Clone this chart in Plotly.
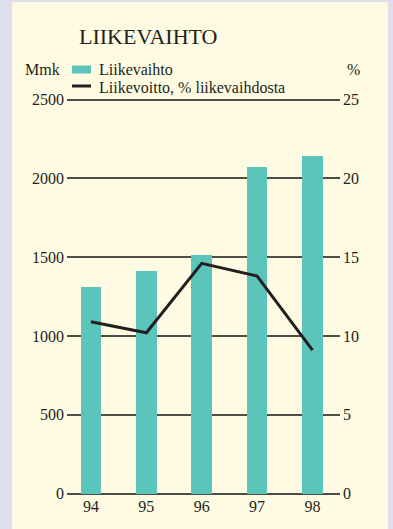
import plotly.graph_objects as go

# Data
years = ["94", "95", "96", "97", "98"]
liikevaihto = [1310, 1410, 1515, 2070, 2140]          # Mmk
liikevoitto_pct = [10.9, 10.2, 14.6, 13.8, 9.1]        # % liikevaihdosta
left_ticks = [0, 500, 1000, 1500, 2000, 2500]
right_ticks = [0, 5, 10, 15, 20, 25]

W, H = 393, 529
L, R, T, B = 67, 340, 98, 495   # plot area in pixels
PAD = 9.5                       # small headroom so the 0 and 2500 gridlines are drawn

def px(x):
    return (x - L) / (R - L)

def py(y):
    return (B - y) / (B - T)

FONT = "Liberation Serif, Times New Roman, serif"
INK = "#231f20"
TEAL = "#5bc4bb"
CREAM = "#fffbe2"
GRID = "#4f4d47"

xpos = list(range(len(years)))

fig = go.Figure()
fig.add_trace(go.Bar(
    x=xpos, y=liikevaihto, width=0.37, marker=dict(color=TEAL, line=dict(width=0)),
    name="Liikevaihto", yaxis="y",
))
fig.add_trace(go.Scatter(
    x=xpos, y=liikevoitto_pct, mode="lines", line=dict(color=INK, width=3),
    name="Liikevoitto, % liikevaihdosta", yaxis="y2",
))

shapes = [
    # cream panel
    dict(type="rect", xref="paper", yref="paper", layer="below",
         x0=px(12), x1=px(388), y0=py(2), y1=py(H + 5),
         fillcolor=CREAM, line=dict(width=0)),
    # legend swatches
    dict(type="rect", xref="paper", yref="paper",
         x0=px(72), x1=px(91), y0=py(73.5), y1=py(65.5),
         fillcolor=TEAL, line=dict(width=0)),
    dict(type="line", xref="paper", yref="paper",
         x0=px(72), x1=px(91), y0=py(86), y1=py(86),
         line=dict(color=INK, width=3)),
]

annotations = [
    dict(text="LIIKEVAIHTO", x=px(77), y=py(46), xref="paper", yref="paper",
         xanchor="left", yanchor="bottom", showarrow=False,
         font=dict(family=FONT, size=22, color=INK), yshift=-5),
    dict(text="Mmk", x=px(62), y=py(76), xref="paper", yref="paper",
         xanchor="right", yanchor="bottom", showarrow=False,
         font=dict(family=FONT, size=16, color=INK), yshift=-4),
    dict(text="%", x=px(345), y=py(76), xref="paper", yref="paper",
         xanchor="left", yanchor="bottom", showarrow=False,
         font=dict(family=FONT, size=16, color=INK), yshift=-4),
    dict(text="Liikevaihto", x=px(97), y=py(76), xref="paper", yref="paper",
         xanchor="left", yanchor="bottom", showarrow=False,
         font=dict(family=FONT, size=16, color=INK), yshift=-4),
    dict(text="Liikevoitto, % liikevaihdosta", x=px(97), y=py(94), xref="paper", yref="paper",
         xanchor="left", yanchor="bottom", showarrow=False,
         font=dict(family=FONT, size=16, color=INK), yshift=-4),
]

fig.update_layout(
    width=W, height=H,
    margin=dict(l=L, r=W - R, t=T, b=H - B, pad=0),
    paper_bgcolor="#dde0ec",
    plot_bgcolor=CREAM,
    showlegend=False,
    bargap=0,
    font=dict(family=FONT, size=16, color=INK),
    xaxis=dict(
        range=[-0.433, 4.497], tickvals=xpos, ticktext=years,
        showgrid=False, zeroline=False, showline=False, ticks="",
        tickfont=dict(family=FONT, size=16, color=INK), fixedrange=True,
    ),
    yaxis=dict(
        range=[-PAD, 2500 + PAD], tickvals=left_ticks, showgrid=True,
        gridcolor=GRID, gridwidth=1.5, zeroline=False, showline=False,
        ticks="", ticklabelstandoff=2,
        tickfont=dict(family=FONT, size=16, color=INK),
    ),
    yaxis2=dict(
        range=[-PAD / 100, 25 + PAD / 100], tickvals=right_ticks,
        overlaying="y", side="right",
        showgrid=False, zeroline=False, showline=False, ticks="",
        ticklabelstandoff=2,
        tickfont=dict(family=FONT, size=16, color=INK),
    ),
    shapes=shapes,
    annotations=annotations,
)

fig.write_html("out.html")
